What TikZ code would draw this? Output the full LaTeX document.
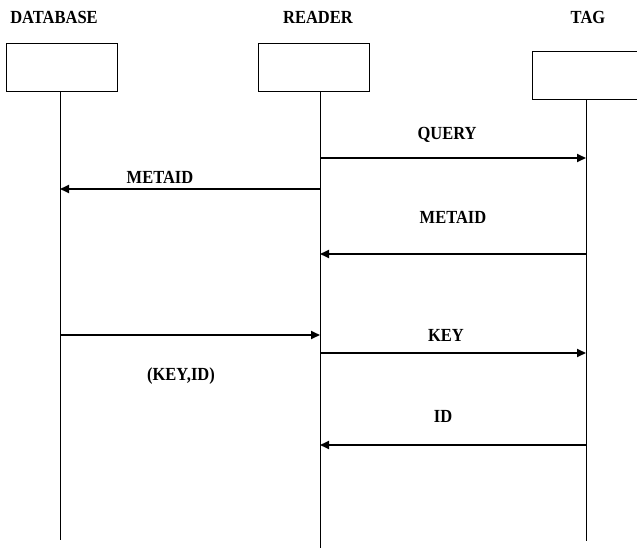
\documentclass[tikz,border=0pt]{standalone}
\usepackage{fontspec}
\setmainfont{Liberation Serif}
\usetikzlibrary{arrows.meta}
\begin{document}
\begin{tikzpicture}[x=1pt, y=-1pt,
    lbl/.style={font=\fontsize{16.5}{17}\selectfont\bfseries, inner sep=0pt, yscale=1.12},
    actor/.style={draw, line width=1pt, minimum width=111pt, minimum height=48pt, inner sep=0pt},
    life/.style={line width=0.9pt},
    msg/.style={line width=1.8pt, -{Triangle[length=9pt, width=8pt]}}]
    \useasboundingbox (0,0) rectangle (637,548);
    \clip (0,0) rectangle (637,548);

    % titres
    \node[lbl] (tdb) at (54,17) {DATABASE};
    \node[lbl] (trd) at (318,17) {READER};
    \node[lbl] (ttg) at (588,17) {TAG};

    % boites
    \node[actor] (bdb) at (61.5,68) {};
    \node[actor] (brd) at (314,68) {};
    \node[actor, minimum width=112pt] (btg) at (588,76) {};

    % lignes de vie
    \coordinate (edb) at (60,540);
    \coordinate (erd) at (320,548);
    \coordinate (etg) at (586,541);
    \draw[life] (60,92) -- (edb);
    \draw[life] (320,92) -- (erd);
    \draw[life] (586,100) -- (etg);

    % points des messages
    \coordinate (r1) at (320,158);  \coordinate (t1) at (586,158);
    \coordinate (r2) at (320,189);  \coordinate (d2) at (60,189);
    \coordinate (t3) at (586,254);  \coordinate (r3) at (320,254);
    \coordinate (d4) at (60,335);   \coordinate (r4) at (320,335);
    \coordinate (r5) at (320,353);  \coordinate (t5) at (586,353);
    \coordinate (t6) at (586,445);  \coordinate (r6) at (320,445);

    % messages
    \draw[msg] (r1) -- (t1);
    \draw[msg] (r2) -- (d2);
    \draw[msg] (t3) -- (r3);
    \draw[msg] (d4) -- (r4);
    \draw[msg] (r5) -- (t5);
    \draw[msg] (t6) -- (r6);

    % etiquettes
    \node[lbl] (lquery) at (447,135) {QUERY};
    \node[lbl] (lmeta1) at (160,177) {METAID};
    \node[lbl] (lmeta2) at (453,217) {METAID};
    \node[lbl] (lkeyid) at (181,376) {(KEY,ID)};
    \node[lbl] (lkey) at (446,335) {KEY};
    \node[lbl] (lid) at (443,416) {ID};
\end{tikzpicture}
\end{document}
